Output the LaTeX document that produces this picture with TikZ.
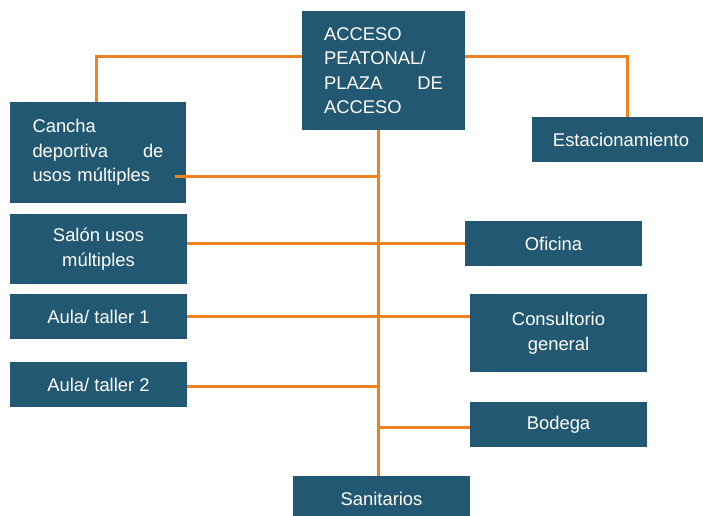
\documentclass[tikz,border=0pt]{standalone}
\usepackage{fontspec}
\setmainfont{Liberation Sans}
\definecolor{boxblue}{RGB}{34,88,113}
\definecolor{lineorange}{RGB}{240,128,32}
\begin{document}
\begin{tikzpicture}[x=1pt,y=-1pt,
  box/.style={draw=none,fill=boxblue,text=white,inner sep=0pt,align=center,
    font=\fontsize{18.4}{24.5}\selectfont},
  link/.style={draw=lineorange,line width=3pt}]
\useasboundingbox (0,0) rectangle (703,515);
\fill[white] (0,0) rectangle (703,515);
% boxes
\node[box,minimum width=163pt,minimum height=119pt,text width=119pt,align=left] (top) at (383.5,70.5)
  {ACCESO\\PEATONAL/\\PLAZA\hfill DE\\ACCESO};
\node[box,minimum width=176pt,minimum height=101pt,text width=131pt,align=left] (cancha) at (98,152.5)
  {Cancha\\deportiva\hfill de\\usos múltiples};
\node[box,minimum width=178pt,minimum height=45pt] (estac) at (621,139.5) {Estacionamiento};
\node[box,minimum width=177pt,minimum height=70pt] (salon) at (98.5,249) {Salón usos\\múltiples};
\node[box,minimum width=177pt,minimum height=45pt] (oficina) at (553.5,243.5) {Oficina};
\node[box,minimum width=177pt,minimum height=45pt] (aula1) at (98.5,316.5) {Aula/ taller 1};
\node[box,minimum width=177pt,minimum height=78pt] (consult) at (558.5,333) {Consultorio\\general};
\node[box,minimum width=177pt,minimum height=45pt] (aula2) at (98.5,384.5) {Aula/ taller 2};
\node[box,minimum width=177pt,minimum height=45pt] (bodega) at (558.5,424.5) {Bodega};
\node[box,minimum width=177pt,minimum height=45pt] (sanit) at (381.5,498.5) {Sanitarios};
% helper coordinates
\coordinate (tk) at (378,0);
\coordinate (hy) at (0,56);
\coordinate (cy) at (175,176);
% connectors
\draw[link] (top.west |- hy) -| ([xshift=-2pt]cancha.north);
\draw[link] (top.east |- hy) -| ([xshift=6pt]estac.north);
\draw[link] (top.south -| tk) -- (sanit.north -| tk);
\draw[link] (cy) -- (cy -| tk);
\draw[link] (salon.east |- oficina.west) -- (oficina.west);
\draw[link] (aula1.east) -- (consult.west |- aula1.east);
\draw[link] ([yshift=-1.5pt]aula2.east) -- ([yshift=-1.5pt]aula2.east -| tk);
\draw[link] ([yshift=-2.5pt]bodega.west) -- ([yshift=-2.5pt]bodega.west -| tk);
\end{tikzpicture}
\end{document}
